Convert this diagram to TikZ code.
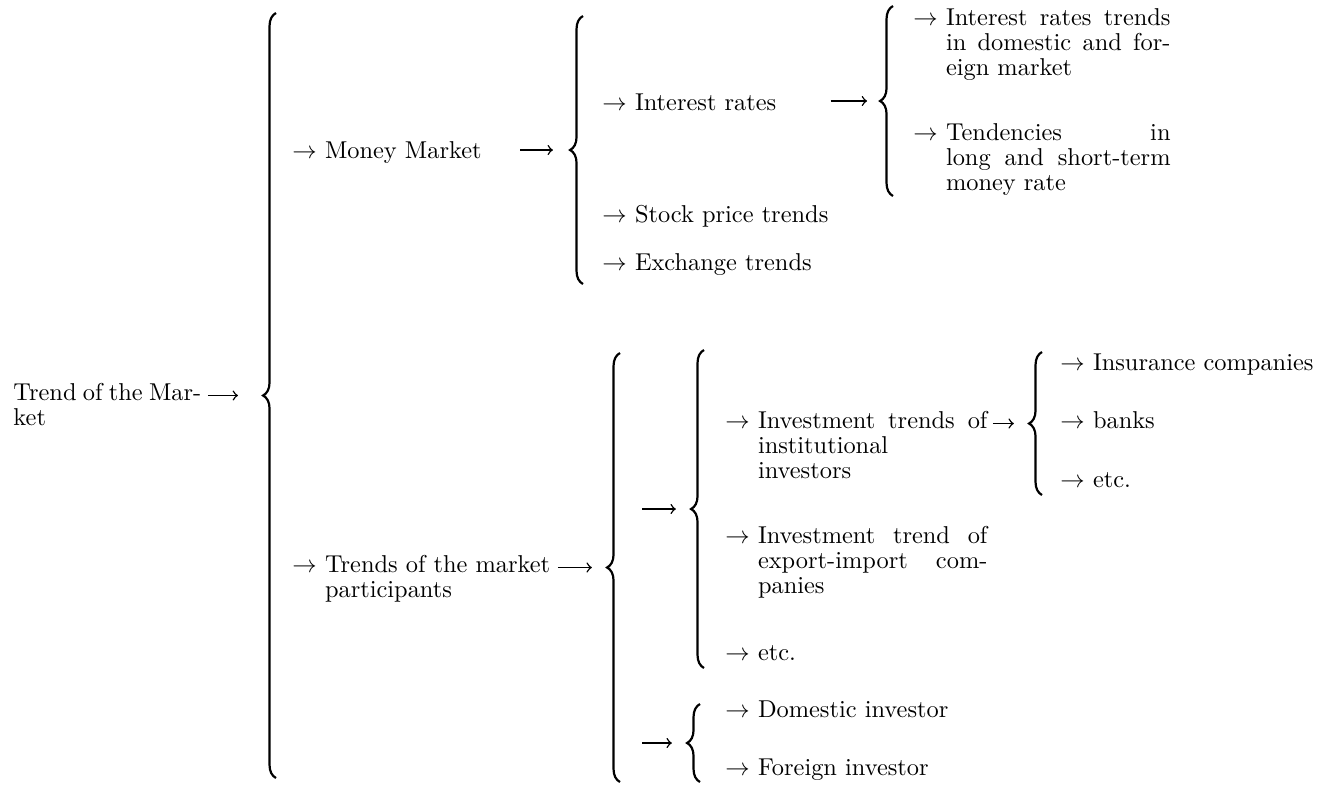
\documentclass[tikz,border=0pt]{standalone}
\usetikzlibrary{decorations.pathreplacing}

% small arrow in front of every entry, fixed width so hanging lines align
\newcommand{\itemarrow}{$\rightarrow$\kern3.33pt}

\tikzset{
  txt/.style={anchor=base west, inner sep=0pt, font=\fontsize{10}{10.25}\selectfont},
  para/.style={txt, text width=#1, align=justify},
  hang/.style={execute at begin node={\hangindent=13.33pt\hangafter=1\relax}},
  curly/.style={decorate, decoration={brace, amplitude=5.3pt}, line width=0.9pt},
  feed/.style={->, line width=0.6pt, shorten >=6.2pt},
}

\begin{document}
\begin{tikzpicture}[x=0.41pt, y=-0.41pt]
  \useasboundingbox (0,0) rectangle (1329,788);

  % Root
  \node[para=77pt] (trend) at (13,400) {Trend of the Mar-\linebreak ket};

  % Braces (drawn bottom to top so the tip points left)
  \draw[curly] (276,778) -- (276,13);
  \coordinate (b1) at (263,395.5);
  \draw[curly] (583,284) -- (583,16);
  \coordinate (b2) at (570,150);
  \draw[curly] (893,196) -- (893,6);
  \coordinate (b3) at (880,101);
  \draw[curly] (620,782) -- (620,353);
  \coordinate (b4) at (607,567.5);
  \draw[curly] (704,668) -- (704,350);
  \coordinate (b5) at (691,509);
  \draw[curly] (1042,495) -- (1042,352);
  \coordinate (b6) at (1029,423.5);
  \draw[curly] (700,782) -- (700,704);
  \coordinate (b7) at (687,743);

  % First level
  \node[txt] (money) at (292,158) {\itemarrow Money Market};
  \node[para=107.8pt, hang] (trends) at (292,572) {\itemarrow Trends of the market\newline participants};

  % Money market
  \node[txt] (irates) at (602,110) {\itemarrow Interest rates};
  \node[txt] (stock) at (602,222) {\itemarrow Stock price trends};
  \node[txt] (exch) at (602,270) {\itemarrow Exchange trends};

  % Interest rates
  \node[para=105.4pt, hang] (idom) at (913,25) {\itemarrow Interest rates trends\linebreak in domestic and for-\linebreak eign market};
  \node[para=105.4pt, hang] (tend) at (913,140) {\itemarrow Tendencies in\linebreak long and short-term\linebreak money rate};

  % Market participants
  \node[para=107.4pt, hang] (inst) at (725,428) {\itemarrow Investment trends of\linebreak institutional\newline investors};
  \node[para=107.4pt, hang] (expo) at (725,543) {\itemarrow Investment trend of\linebreak export-import com-\linebreak panies};
  \node[txt] (etc2) at (725,660) {\itemarrow etc.};
  \node[txt] (dom) at (725,717) {\itemarrow Domestic investor};
  \node[txt] (forg) at (725,775) {\itemarrow Foreign investor};

  % Institutional investors
  \node[txt] (ins) at (1060,370) {\itemarrow Insurance companies};
  \node[txt] (banks) at (1060,428) {\itemarrow banks};
  \node[txt] (etc1) at (1060,487) {\itemarrow etc.};

  % Arrows into the braces
  \draw[feed, shorten <=2.5pt, shorten >=10.25pt] (b1 -| trend.east) -- (b1);
  \draw[feed, shorten <=15.6pt, shorten >=7pt] (b2 -| money.east) -- (b2);
  \draw[feed, shorten <=22.1pt, shorten >=5.3pt] (b3 -| irates.east) -- (b3);
  \draw[feed, shorten <=0.8pt] (b4 -| trends.east) -- (b4);
  \coordinate (s5) at (642,509);
  \draw[feed] (s5) -- (b5);
  \coordinate (s7) at (642,743);
  \draw[feed] (s7) -- (b7);
  \draw[feed, shorten <=2pt] (b6 -| inst.east) -- (b6);

\end{tikzpicture}
\end{document}
